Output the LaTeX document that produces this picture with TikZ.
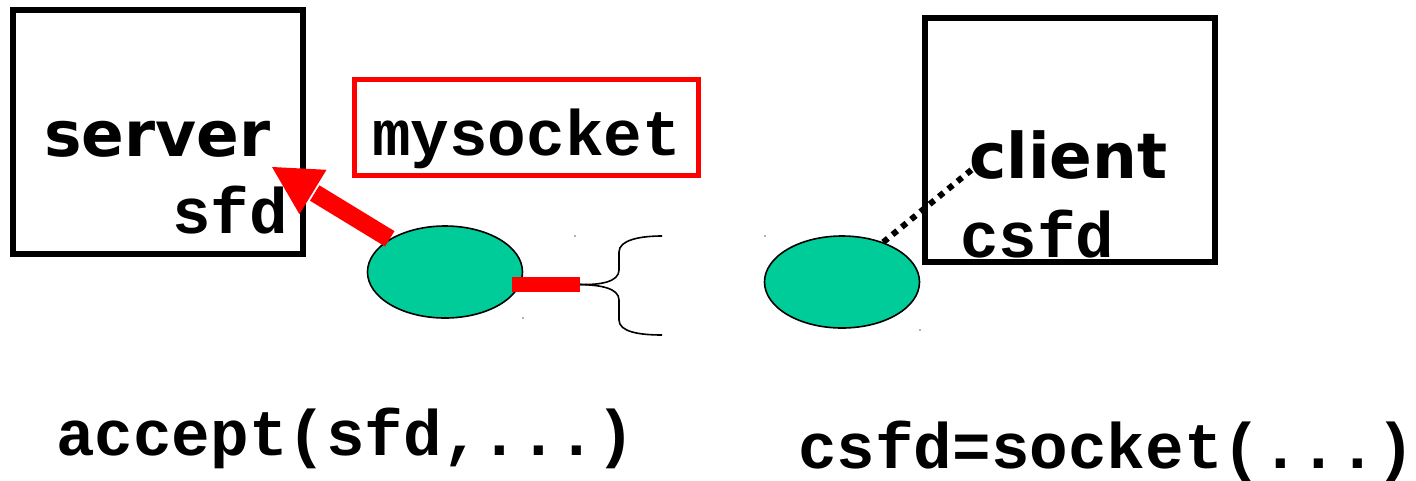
\documentclass[tikz,border=0pt]{standalone}
\usepackage{fontspec}
\setmainfont{DejaVu Sans}
\newfontfamily\labelsans{DejaVu Sans}[BoldFont={DejaVu Sans Bold}]
\newfontfamily\labelmono{Liberation Mono}[BoldFont={Liberation Mono Bold}]
\usetikzlibrary{calc,shapes.geometric}
\definecolor{sockgreen}{HTML}{00CC99}
\definecolor{sockred}{HTML}{FF0000}
\tikzset{
  hostbox/.style={draw=black,line width=5.5pt,fill=none},
  namebox/.style={draw=sockred,line width=5pt},
  sockell/.style={ellipse,draw=black,line width=1.6pt,fill=sockgreen,
    minimum width=155pt,minimum height=92pt,inner sep=0pt},
  sanslbl/.style={anchor=base west,inner sep=0pt,
    font=\labelsans\bfseries\fontsize{63}{70}\selectfont},
  monolbl/.style={anchor=base west,inner sep=0pt,
    font=\labelmono\bfseries\fontsize{64.3}{70}\selectfont},
  speck/.style={fill=black!60,circle,inner sep=0pt,minimum size=1.6pt}
}
\begin{document}
\begin{tikzpicture}[x=1pt,y=-1pt]
\useasboundingbox (0,0) rectangle (1416,480);

% host boxes
\draw[hostbox] (13,10) rectangle (303,254);
\draw[hostbox] (925,18) rectangle (1215,262);
\draw[namebox] (354,79) rectangle (698,175);

% labels
\node[sanslbl] (srv) at (44,156) {server};
\node[monolbl] (sfd) at (172,233) {sfd};
\node[monolbl] (mys) at (372,155) {mysocket};
\node[sanslbl] (cli) at (969,178) {client};
\node[monolbl] (csfd) at (960,257) {csfd};
\node[monolbl] (acc) at (56,455) {accept(sfd,...)};
\node[monolbl] (sock) at (798,468) {csfd=socket(...)};

% sockets
\node[sockell] (e1) at (445,272) {};
\node[sockell] (e2) at (842,282) {};

% tiny specks around the sockets
\node[speck] (s1) at (575,236) {};
\node[speck] (s2) at (523,318) {};
\node[speck] (s3) at (765,236) {};
\node[speck] (s4) at (920,330) {};

% accept arrow into the server: thick shaft plus a wide triangular head
\coordinate (tip) at (272,167);
\coordinate (hb) at ($(tip)!48pt!(e1.149)$);
\draw[sockred,line width=18pt] (e1.149) -- ($(hb)!-2pt!(tip)$);
\fill[sockred] (tip) -- ($(hb)!26pt!90:(tip)$) -- ($(hb)!26pt!-90:(tip)$) -- cycle;

% connection bar and brace
\coordinate (barA) at (512,284.5);
\coordinate (barB) at (580,284.5);
\draw[sockred,line width=15pt] (barA) -- (barB);
\coordinate (bt) at (662,236);
\coordinate (bb) at (662,335);
\draw[black,line width=1.6pt]
  (barB) .. controls (600,285) and (619,282) .. (619,270)
  -- (619,252) .. controls (619,240) and (640,236) .. (bt);
\draw[black,line width=1.6pt]
  (barB) .. controls (600,285) and (619,288) .. (619,300)
  -- (619,320) .. controls (619,332) and (640,335) .. (bb);

% client descriptor link
\coordinate (cl) at (975,167);
\draw[black,line width=6pt,dash pattern=on 6pt off 6pt] (e2.44) -- (cl);
\end{tikzpicture}
\end{document}
